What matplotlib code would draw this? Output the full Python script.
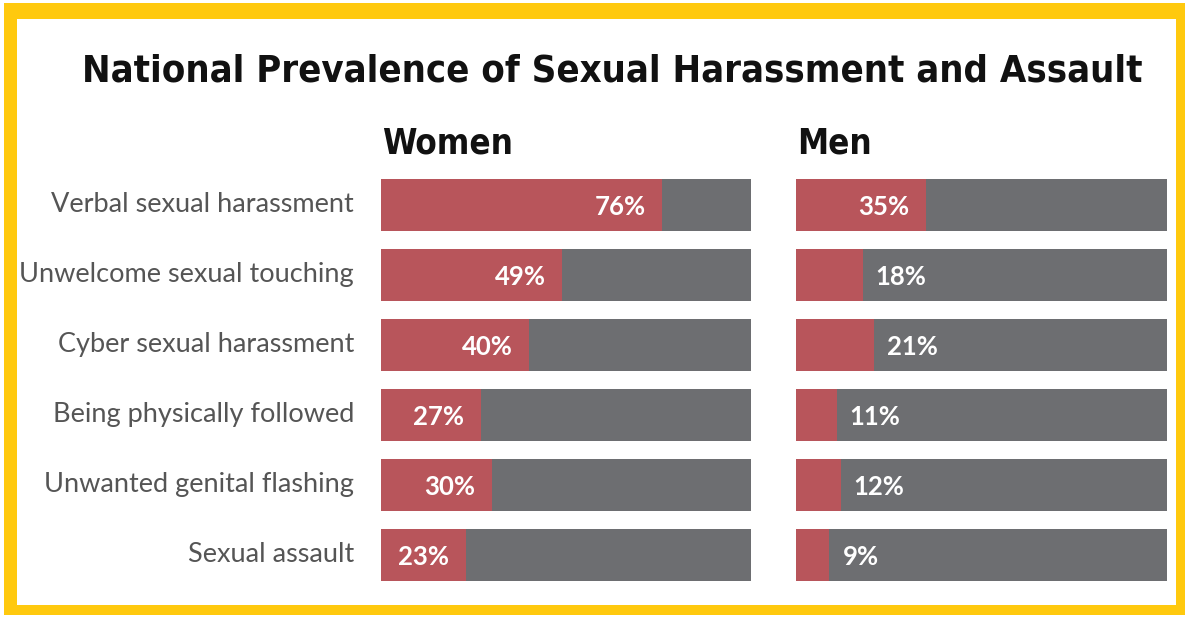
import matplotlib.pyplot as plt
from matplotlib.patches import Rectangle

categories = ['Verbal sexual harassment', 'Unwelcome sexual touching',
              'Cyber sexual harassment', 'Being physically followed',
              'Unwanted genital flashing', 'Sexual assault']
women = [76, 49, 40, 27, 30, 23]
men = [35, 18, 21, 11, 12, 9]

RED = '#b8555b'
GRAY = '#6d6e71'
YELLOW = '#ffc90e'

W, H = 1187, 617
fig = plt.figure(figsize=(W / 100, H / 100), dpi=100)

# yellow frame
fig.patches.append(Rectangle((4 / W, 2 / H), 1181 / W, 612 / H, transform=fig.transFigure,
                             facecolor=YELLOW, edgecolor='none', zorder=-3))
fig.patches.append(Rectangle((17 / W, 12 / H), 1159 / W, 586 / H, transform=fig.transFigure,
                             facecolor='white', edgecolor='none', zorder=-2))

fig.text(612 / W, 1 - 71 / H, 'National Prevalence of Sexual Harassment and Assault',
         ha='center', va='center', fontsize=27.4, fontweight='bold', fontstretch='condensed',
         family='DejaVu Sans', color='#111111')


def panel(x0, width, values, title, inside_min):
    ax = fig.add_axes([x0 / W, (H - 590) / H, width / W, 420 / H])
    ax.set_zorder(2)
    ax.patch.set_alpha(0)
    y = list(range(len(values)))
    ax.barh(y, values, height=0.73, color=RED)
    ax.barh(y, [100 - v for v in values], left=values, height=0.73, color=GRAY)
    for i, v in enumerate(values):
        if v >= inside_min:
            ax.text(v - 4.5, i + 0.03, f'{v}%', ha='right', va='center', color='white',
                    fontsize=18.5, fontweight='bold', family='Lato')
        else:
            ax.text(v + 3.5, i + 0.03, f'{v}%', ha='left', va='center', color='white',
                    fontsize=18.5, fontweight='bold', family='Lato')
    ax.set_xlim(0, 100)
    ax.set_ylim(len(values) - 0.5, -0.5)
    ax.axis('off')
    fig.text((x0 + 1) / W, 1 - 143 / H, title, ha='left', va='center', fontsize=25,
             fontweight='bold', fontstretch='condensed', family='DejaVu Sans', color='#111111')
    return ax


ax_w = panel(381, 370, women, 'Women', 0)
ax_m = panel(796, 371, men, 'Men', 30)

for i, c in enumerate(categories):
    ax_w.text(-7.3, i, c, ha='right', va='center', fontsize=19.5, color='#555555',
              family='Lato', clip_on=False)

fig.savefig('out.png', dpi=100)
